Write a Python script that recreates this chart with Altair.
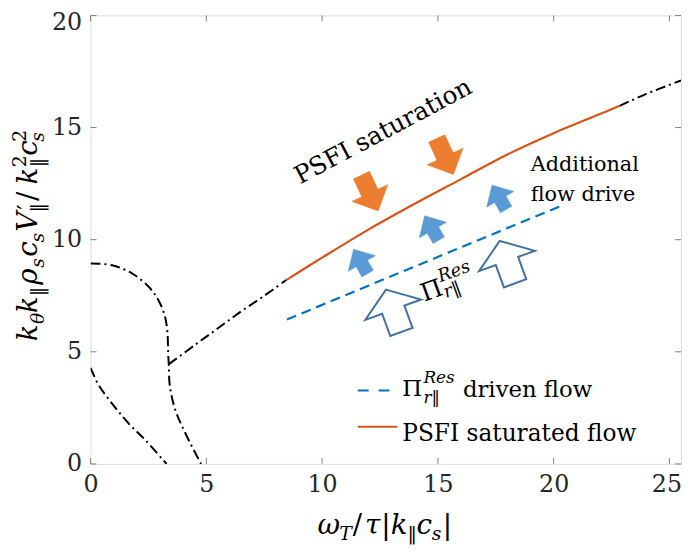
import altair as alt
import pandas as pd

# ---------------- data ----------------
xticks = [0, 5, 10, 15, 20, 25]
yticks = [0, 5, 10, 15, 20]

# black dash-dot branches
branchA_x = [0.0, 0.36, 0.93, 1.64, 2.36, 3.28]
branchA_y = [4.28, 3.50, 2.69, 1.81, 1.07, 0.0]
branchB_x = [0.0, 0.93, 1.79, 2.50, 2.92, 3.21, 3.32, 3.35, 3.38, 3.42, 3.64, 4.06, 4.77]
branchB_y = [8.94, 8.86, 8.50, 7.91, 7.32, 6.58, 5.85, 4.97, 4.38, 3.50, 2.47, 1.44, 0.0]
branchC_x = [3.38, 4.5, 5.5, 6.5, 7.5, 8.45]
branchC_y = [4.45, 5.30, 6.05, 6.80, 7.50, 8.20]
tail_x = [22.85, 24.0, 25.5]
tail_y = [15.97, 16.5, 17.1]

# PSFI saturated flow (orange solid)
psfi_x = [8.45, 10, 12, 14, 16, 18, 20, 22, 22.85]
psfi_y = [8.2, 9.2, 10.45, 11.6, 12.7, 13.8, 14.75, 15.6, 15.97]

# Pi_r||^Res driven flow (blue dashed)
res_x = [8.48, 12, 16, 20.3]
res_y = [6.44, 7.95, 9.66, 11.5]

# annotation arrows (centres)
orange_ax = [12.06, 15.31]
orange_ay = [12.08, 13.71]
blue_ax = [11.68, 14.75, 17.66]
blue_ay = [9.0, 10.49, 11.86]
open_ax = [13.09, 18.0]
open_ay = [6.83, 9.0]

# annotation texts
psfi_text = "PSFI saturation"
drive_lines = ["Additional", "flow drive"]
legend_labels = ["driven flow", "PSFI saturated flow"]

# y title pieces: k_θ k_∥ ρ_s c_s V'_∥ / k_∥^2 c_s^2
ytitle_txt = ["k", "θ", "k", "‖", "ρ", "s", "c", "s", "V", "′", "‖", "/", "k", "2", "‖", "c", "2", "s"]
ytitle_kind = ["m", "b", "m", "b", "m", "b", "m", "b", "m", "p", "b", "m", "m", "u", "b", "m", "u", "b"]
ytitle_ital = [1, 1, 1, 0, 1, 1, 1, 1, 1, 0, 0, 0, 1, 0, 0, 1, 0, 1]
ytitle_pos = [342, 324.6, 313.7, 296.4, 284.7, 267.5, 256.6, 242.2, 231.2, 209.1, 211.8,
              200.1, 183.5, 166.1, 166.1, 154.5, 140.1, 140.1]

# x title pieces: ω_T / τ |k_∥ c_s|
xtitle_txt = ["ω", "T", "/", "τ", "|", "k", "‖", "c", "s", "|"]
xtitle_kind = ["m", "b", "m", "m", "m", "m", "b", "m", "b", "m"]
xtitle_ital = [1, 1, 0, 1, 0, 1, 0, 1, 1, 0]
xtitle_pos = [321, 343, 356.5, 369, 385.5, 395, 412, 421, 436.5, 447.5]

# ---------------- layout ----------------
W, H = 597, 453.5
OX, OY = 91.5, 12.5  # plot origin on the page
SERIF = "DejaVu Serif"

xs = alt.Scale(domain=[0, 25.5], nice=False, zero=False)
ys = alt.Scale(domain=[0, 20], nice=False, zero=False)
xa = alt.Axis(values=xticks, title=None, grid=False, domain=False, ticks=False, tickSize=0,
              labelFont=SERIF, labelFontSize=24, labelColor="#262626", labelPadding=9,
              labelFlush=False, labelOverlap=False,
              labelOffset=alt.condition("datum.value == 25", alt.value(-3), alt.value(0)))
ya = alt.Axis(values=yticks, title=None, grid=False, domain=False, ticks=False, tickSize=0,
              labelFont=SERIF, labelFontSize=24, labelColor="#262626", labelPadding=9,
              labelFlush=False, labelOverlap=False,
              labelOffset=alt.condition("datum.value == 20", alt.value(7), alt.value(0)))


def X(f):
    return alt.X(f, scale=xs, axis=xa)


def Y(f):
    return alt.Y(f, scale=ys, axis=ya)


TICK = "#808080"
xt = pd.DataFrame({"t": xticks})
yt = pd.DataFrame({"t": yticks})
tick_layers = [
    alt.Chart(xt).mark_rule(color=TICK, strokeWidth=1).encode(x=X("t:Q"), y=alt.value(H), y2=alt.value(H - 6)),
    alt.Chart(xt).mark_rule(color=TICK, strokeWidth=1).encode(x=X("t:Q"), y=alt.value(0), y2=alt.value(6)),
    alt.Chart(yt).mark_rule(color=TICK, strokeWidth=1).encode(y=Y("t:Q"), x=alt.value(0), x2=alt.value(6)),
    alt.Chart(yt).mark_rule(color=TICK, strokeWidth=1).encode(y=Y("t:Q"), x=alt.value(W), x2=alt.value(W - 6)),
]

# black dash-dot curves
rows = []
for seg, (bx, by) in enumerate([(branchA_x, branchA_y), (branchB_x, branchB_y),
                                (branchC_x, branchC_y), (tail_x, tail_y)]):
    for i, (a, b) in enumerate(zip(bx, by)):
        rows.append({"x": a, "y": b, "seg": seg, "ord": i})
black_df = pd.DataFrame(rows)
black = alt.Chart(black_df).mark_line(color="black", strokeWidth=2, strokeDash=[10, 4, 2, 4],
                                      interpolate="catmull-rom", clip=True).encode(
    x=X("x:Q"), y=Y("y:Q"), detail="seg:N", order="ord:Q")

orange = alt.Chart(pd.DataFrame({"x": psfi_x, "y": psfi_y})).mark_line(
    color="#D95319", strokeWidth=2.2, interpolate="catmull-rom").encode(x=X("x:Q"), y=Y("y:Q"))

blue = alt.Chart(pd.DataFrame({"x": res_x, "y": res_y})).mark_line(
    color="#0072BD", strokeWidth=2.2, strokeDash=[10, 6]).encode(x=X("x:Q"), y=Y("y:Q"))

# arrows (custom symbol shapes, pointing up before rotation)
ORANGE_ARROW = "M0,-1 L1,0 L0.45,0 L0.45,1 L-0.45,1 L-0.45,0 L-1,0 Z"
BLUE_ARROW = "M0,-0.95 L1,0.1 L0.42,0.1 L0.42,0.85 L-0.42,0.85 L-0.42,0.1 L-1,0.1 Z"
OPEN_ARROW = "M0,-0.76 L1,-0.04 L0.4,-0.04 L0.4,0.76 L-0.4,0.76 L-0.4,-0.04 L-1,-0.04 Z"

arrow_orange = alt.Chart(pd.DataFrame({"x": orange_ax, "y": orange_ay})).mark_point(
    shape=ORANGE_ARROW, size=1600, angle=155, filled=True, fill="#ED7D31", stroke="#ED7D31",
    strokeWidth=0.5, opacity=1).encode(x=X("x:Q"), y=Y("y:Q"))
arrow_blue = alt.Chart(pd.DataFrame({"x": blue_ax, "y": blue_ay})).mark_point(
    shape=BLUE_ARROW, size=1000, angle=330, filled=True, fill="#5B9BD5", stroke="#5B9BD5",
    strokeWidth=0.5, opacity=1).encode(x=X("x:Q"), y=Y("y:Q"))
arrow_open = alt.Chart(pd.DataFrame({"x": open_ax, "y": open_ay})).mark_point(
    shape=OPEN_ARROW, size=3600, angle=340, filled=True, fill="white", stroke="#41719C",
    strokeWidth=2, opacity=1, fillOpacity=1, strokeOpacity=1).encode(x=X("x:Q"), y=Y("y:Q"))

# annotation texts
psfi_lab = alt.Chart(pd.DataFrame({"x": [9.04], "y": [12.46], "t": [psfi_text]})).mark_text(
    font=SERIF, fontSize=25, angle=332, align="left", baseline="alphabetic", color="black").encode(
    x=X("x:Q"), y=Y("y:Q"), text="t:N")
drive_lab = alt.Chart(pd.DataFrame({"x": [19.01, 19.01], "y": [13.05, 11.73], "t": drive_lines})).mark_text(
    font=SERIF, fontSize=21, align="left", baseline="alphabetic", color="black").encode(
    x=X("x:Q"), y=Y("y:Q"), text="t:N")

pi_df = pd.DataFrame({"x": [14.41], "y": [7.23]})
pi_main = alt.Chart(pi_df).mark_text(font=SERIF, fontSize=25, angle=340, align="left",
                                      baseline="alphabetic", color="black", text="Π").encode(
    x=X("x:Q"), y=Y("y:Q"))
pi_sup = alt.Chart(pi_df).mark_text(font=SERIF, fontSize=18, fontStyle="italic", angle=340,
                                     align="left", baseline="alphabetic", color="black", text="Res",
                                     dx=22, dy=-13).encode(x=X("x:Q"), y=Y("y:Q"))
pi_sub = alt.Chart(pi_df).mark_text(font=SERIF, fontSize=18, fontStyle="italic", angle=340,
                                     align="left", baseline="alphabetic", color="black", text="r‖",
                                     dx=22, dy=4).encode(x=X("x:Q"), y=Y("y:Q"))

# ---- axis titles built from pieces (pixel positions) ----
yoff = {"m": 37, "b": 44, "u": 26.5, "p": 35}
ysize = {"m": 28, "b": 19, "u": 19, "p": 24}
yt_df = pd.DataFrame({
    "t": ytitle_txt,
    "px": [yoff[k] - OX for k in ytitle_kind],
    "py": [p - OY for p in ytitle_pos],
    "fs": [ysize[k] for k in ytitle_kind],
    "it": ytitle_ital,
})
xoff = {"m": 537, "b": 543}
xsize = {"m": 28, "b": 19}
xt_df = pd.DataFrame({
    "t": xtitle_txt,
    "px": [p - OX for p in xtitle_pos],
    "py": [xoff[k] - OY for k in xtitle_kind],
    "fs": [xsize[k] for k in xtitle_kind],
    "it": xtitle_ital,
})


def pieces(df, italic, angle):
    sub = df[df["it"] == (1 if italic else 0)]
    kw = dict(font=SERIF, align="left", baseline="alphabetic", color="black")
    if italic:
        kw["fontStyle"] = "italic"
    if angle:
        kw["angle"] = angle
    return alt.Chart(sub).mark_text(**kw).encode(
        x=alt.X("px:Q", scale=None), y=alt.Y("py:Q", scale=None),
        size=alt.Size("fs:Q", scale=None, legend=None), text="t:N")


title_layers = [pieces(yt_df, True, 270), pieces(yt_df, False, 270),
                pieces(xt_df, True, 0), pieces(xt_df, False, 0)]

# ---- legend (inside, lower right) ----
one = pd.DataFrame({"a": [0]})
leg_dash = alt.Chart(one).mark_rule(color="#0072BD", strokeWidth=2, strokeDash=[11, 10]).encode(
    x=alt.value(361.7 - OX), x2=alt.value(394 - OX), y=alt.value(391.7 - OY))
leg_solid = alt.Chart(one).mark_rule(color="#D95319", strokeWidth=2).encode(
    x=alt.value(361.7 - OX), x2=alt.value(401.7 - OX), y=alt.value(428.3 - OY))
leg_pi = alt.Chart(one).mark_text(font=SERIF, fontSize=23, align="left",
                                  baseline="alphabetic", color="black", text="Π").encode(
    x=alt.value(406.7 - OX), y=alt.value(397.5 - OY))
leg_sup = alt.Chart(one).mark_text(font=SERIF, fontSize=17, fontStyle="italic", align="left",
                                   baseline="alphabetic", color="black", text="Res").encode(
    x=alt.value(428 - OX), y=alt.value(384 - OY))
leg_sub = alt.Chart(one).mark_text(font=SERIF, fontSize=17, fontStyle="italic", align="left",
                                   baseline="alphabetic", color="black", text="r‖").encode(
    x=alt.value(428 - OX), y=alt.value(404 - OY))
leg_t1 = alt.Chart(pd.DataFrame({"t": [legend_labels[0]]})).mark_text(
    font=SERIF, fontSize=23, align="left", baseline="alphabetic", color="black").encode(
    x=alt.value(468 - OX), y=alt.value(398 - OY), text="t:N")
leg_t2 = alt.Chart(pd.DataFrame({"t": [legend_labels[1]]})).mark_text(
    font=SERIF, fontSize=23.5, align="left", baseline="alphabetic", color="black").encode(
    x=alt.value(406.7 - OX), y=alt.value(443 - OY), text="t:N")

chart = alt.layer(
    *tick_layers, black, orange, blue, arrow_orange, arrow_blue, arrow_open,
    psfi_lab, drive_lab, pi_main, pi_sup, pi_sub,
    *title_layers,
    leg_dash, leg_solid, leg_pi, leg_sup, leg_sub, leg_t1, leg_t2,
).properties(
    width=W, height=H,
    padding={"left": OX - 8, "top": OY - 8, "right": 1, "bottom": 84},
    autosize=alt.AutoSizeParams(type="none"),
).configure_view(stroke="#808080", strokeWidth=1).configure(background="white")

chart.save("out.html", embed_options={"renderer": "svg", "actions": False})
